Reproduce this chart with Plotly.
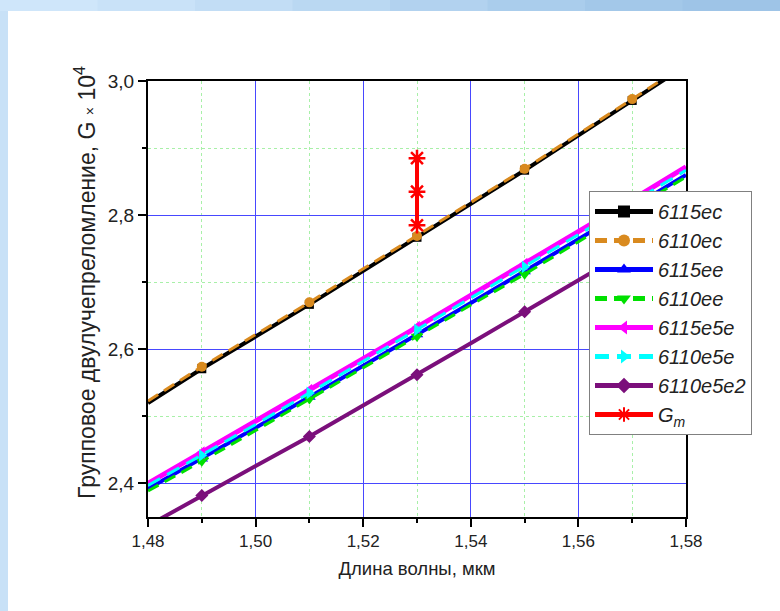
import plotly.graph_objects as go

# ---------------- data ----------------
wavelength = [1.48, 1.49, 1.50, 1.51, 1.52, 1.53, 1.54, 1.55, 1.56, 1.57, 1.58]

g_6115ec  = [2.520, 2.571, 2.619, 2.667, 2.717, 2.767, 2.817, 2.867, 2.919, 2.971, 3.023]
g_6110ec  = [2.523, 2.574, 2.622, 2.670, 2.720, 2.769, 2.819, 2.869, 2.921, 2.973, 3.025]
g_6115ee  = [2.392, 2.437, 2.483, 2.529, 2.575, 2.622, 2.669, 2.716, 2.764, 2.812, 2.860]
g_6110ee  = [2.389, 2.433, 2.479, 2.526, 2.572, 2.619, 2.666, 2.712, 2.760, 2.808, 2.857]
g_6115e5e = [2.400, 2.446, 2.492, 2.539, 2.586, 2.633, 2.680, 2.727, 2.775, 2.823, 2.872]
g_6110e5e = [2.397, 2.442, 2.488, 2.535, 2.582, 2.629, 2.676, 2.723, 2.771, 2.819, 2.867]
g_6110e5e2 = [2.337, 2.382, 2.426, 2.470, 2.516, 2.562, 2.609, 2.656, 2.703, 2.750, 2.797]

gm_x = [1.53, 1.53, 1.53]
gm_y = [2.785, 2.835, 2.885]

x_ticks = [1.48, 1.50, 1.52, 1.54, 1.56, 1.58]
x_minor = [1.49, 1.51, 1.53, 1.55, 1.57]
y_ticks = [2.4, 2.6, 2.8, 3.0]
y_minor = [2.5, 2.7, 2.9]

series = [
    # name, values, color, width, dash, symbol, msize
    ("6115ec",   g_6115ec,   "#000000", 4, "solid",      "square",         9),
    ("6110ec",   g_6110ec,   "#D98A1F", 3, "12px,7px",   "circle",         10),
    ("6115ee",   g_6115ee,   "#0000FF", 4, "solid",      "triangle-up",    11),
    ("6110ee",   g_6110ee,   "#00E000", 3, "12px,7px",   "triangle-down",  11),
    ("6115e5e",  g_6115e5e,  "#FF00FF", 5, "solid",      "triangle-left",  11),
    ("6110e5e",  g_6110e5e,  "#00FFFF", 3, "14px,8px",   "triangle-right", 11),
    ("6110e5e2", g_6110e5e2, "#7B0F7B", 4, "solid",      "diamond",        10),
]

fig = go.Figure()

for name, vals, color, w, dash, sym, ms in series:
    # markers only on every second sample (1.49, 1.51, ...)
    sizes = [ms if i % 2 == 1 else 0 for i in range(len(wavelength))]
    fig.add_trace(go.Scatter(
        x=wavelength, y=vals, mode="lines+markers", name=name,
        line=dict(color=color, width=w, dash=dash),
        marker=dict(symbol=sym, size=sizes, color=color, opacity=1,
                    line=dict(width=0))))

fig.add_trace(go.Scatter(
    x=gm_x, y=gm_y, mode="lines+markers", name="G<sub>m</sub>",
    line=dict(color="#FF0000", width=4),
    marker=dict(symbol="asterisk-open", size=14, opacity=1,
                line=dict(color="#FF0000", width=2.5))))

# ---------------- background panel ----------------
PX0, PX1, PY0, PY1 = 148, 686, 81, 517
def px(v):
    return (v - PX0) / (PX1 - PX0)
def py(v):
    return (PY1 - v) / (PY1 - PY0)

shapes = []
stripe_cols = ["#CFE6FA", "#C9E2F8", "#C2DDF5", "#BAD8F2", "#B2D2EF", "#AACDEC", "#A3C8E9", "#9EC4E7"]
n = len(stripe_cols)
for i, c in enumerate(stripe_cols):
    shapes.append(dict(type="rect", xref="paper", yref="paper", layer="below",
                       x0=px(780 * i / n), x1=px(780 * (i + 1) / n + 1),
                       y0=py(11), y1=py(-5), fillcolor=c, line=dict(width=0)))
shapes.append(dict(type="rect", xref="paper", yref="paper", layer="below",
                   x0=px(8), x1=px(800), y0=py(640), y1=py(11),
                   fillcolor="#FFFFFF", line=dict(width=0)))

font_family = "Liberation Sans, Arial, sans-serif"

fig.update_layout(
    width=780, height=611,
    margin=dict(l=PX0, r=780 - PX1, t=PY0, b=611 - PY1, autoexpand=False),
    paper_bgcolor="#C8E1F7",
    plot_bgcolor="#FFFFFF",
    separators=", ",
    font=dict(family=font_family, color="#222222", size=17),
    shapes=shapes,
    showlegend=True,
    legend=dict(
        x=px(589), y=py(191), xanchor="left", yanchor="top",
        bgcolor="#FFFFFF", bordercolor="#808080", borderwidth=1,
        font=dict(family=font_family, size=20, style="italic", color="#222222"),
        tracegroupgap=0, itemsizing="constant", itemwidth=58,
    ),
    annotations=[dict(
        text="Групповое двулучепреломление, G <span style='font-size:14px'>×</span> 10<sup>4</sup>",
        xref="paper", yref="paper", x=px(85), y=py(283),
        xanchor="center", yanchor="middle", textangle=-90, showarrow=False,
        font=dict(family=font_family, size=23, color="#222222"))],
    xaxis=dict(
        range=[1.48, 1.58], tickvals=x_ticks,
        tickformat=".2f",
        showline=True, linecolor="#000000", linewidth=2, mirror=True,
        ticks="outside", ticklen=8, tickwidth=2, tickcolor="#000000",
        showgrid=True, gridcolor="#4848FF", gridwidth=1,
        zeroline=False,
        minor=dict(tickmode="array", tickvals=x_minor, ticks="outside", ticklen=4,
                   tickwidth=2, tickcolor="#000000", showgrid=True,
                   gridcolor="#A8F0A8", griddash="dot", gridwidth=1),
        title=dict(text="Длина волны, мкм", font=dict(size=18.5), standoff=12),
        tickfont=dict(size=17),
    ),
    yaxis=dict(
        range=[2.35, 3.0], tickvals=y_ticks,
        tickformat=".1f",
        showline=True, linecolor="#000000", linewidth=2, mirror=True,
        ticks="outside", ticklen=8, tickwidth=2, tickcolor="#000000",
        showgrid=True, gridcolor="#4848FF", gridwidth=1,
        zeroline=False,
        minor=dict(tickmode="array", tickvals=y_minor, ticks="outside", ticklen=4,
                   tickwidth=2, tickcolor="#000000", showgrid=True,
                   gridcolor="#A8F0A8", griddash="dot", gridwidth=1),
        tickfont=dict(size=19),
    ),
)

fig.write_html("out.html")
